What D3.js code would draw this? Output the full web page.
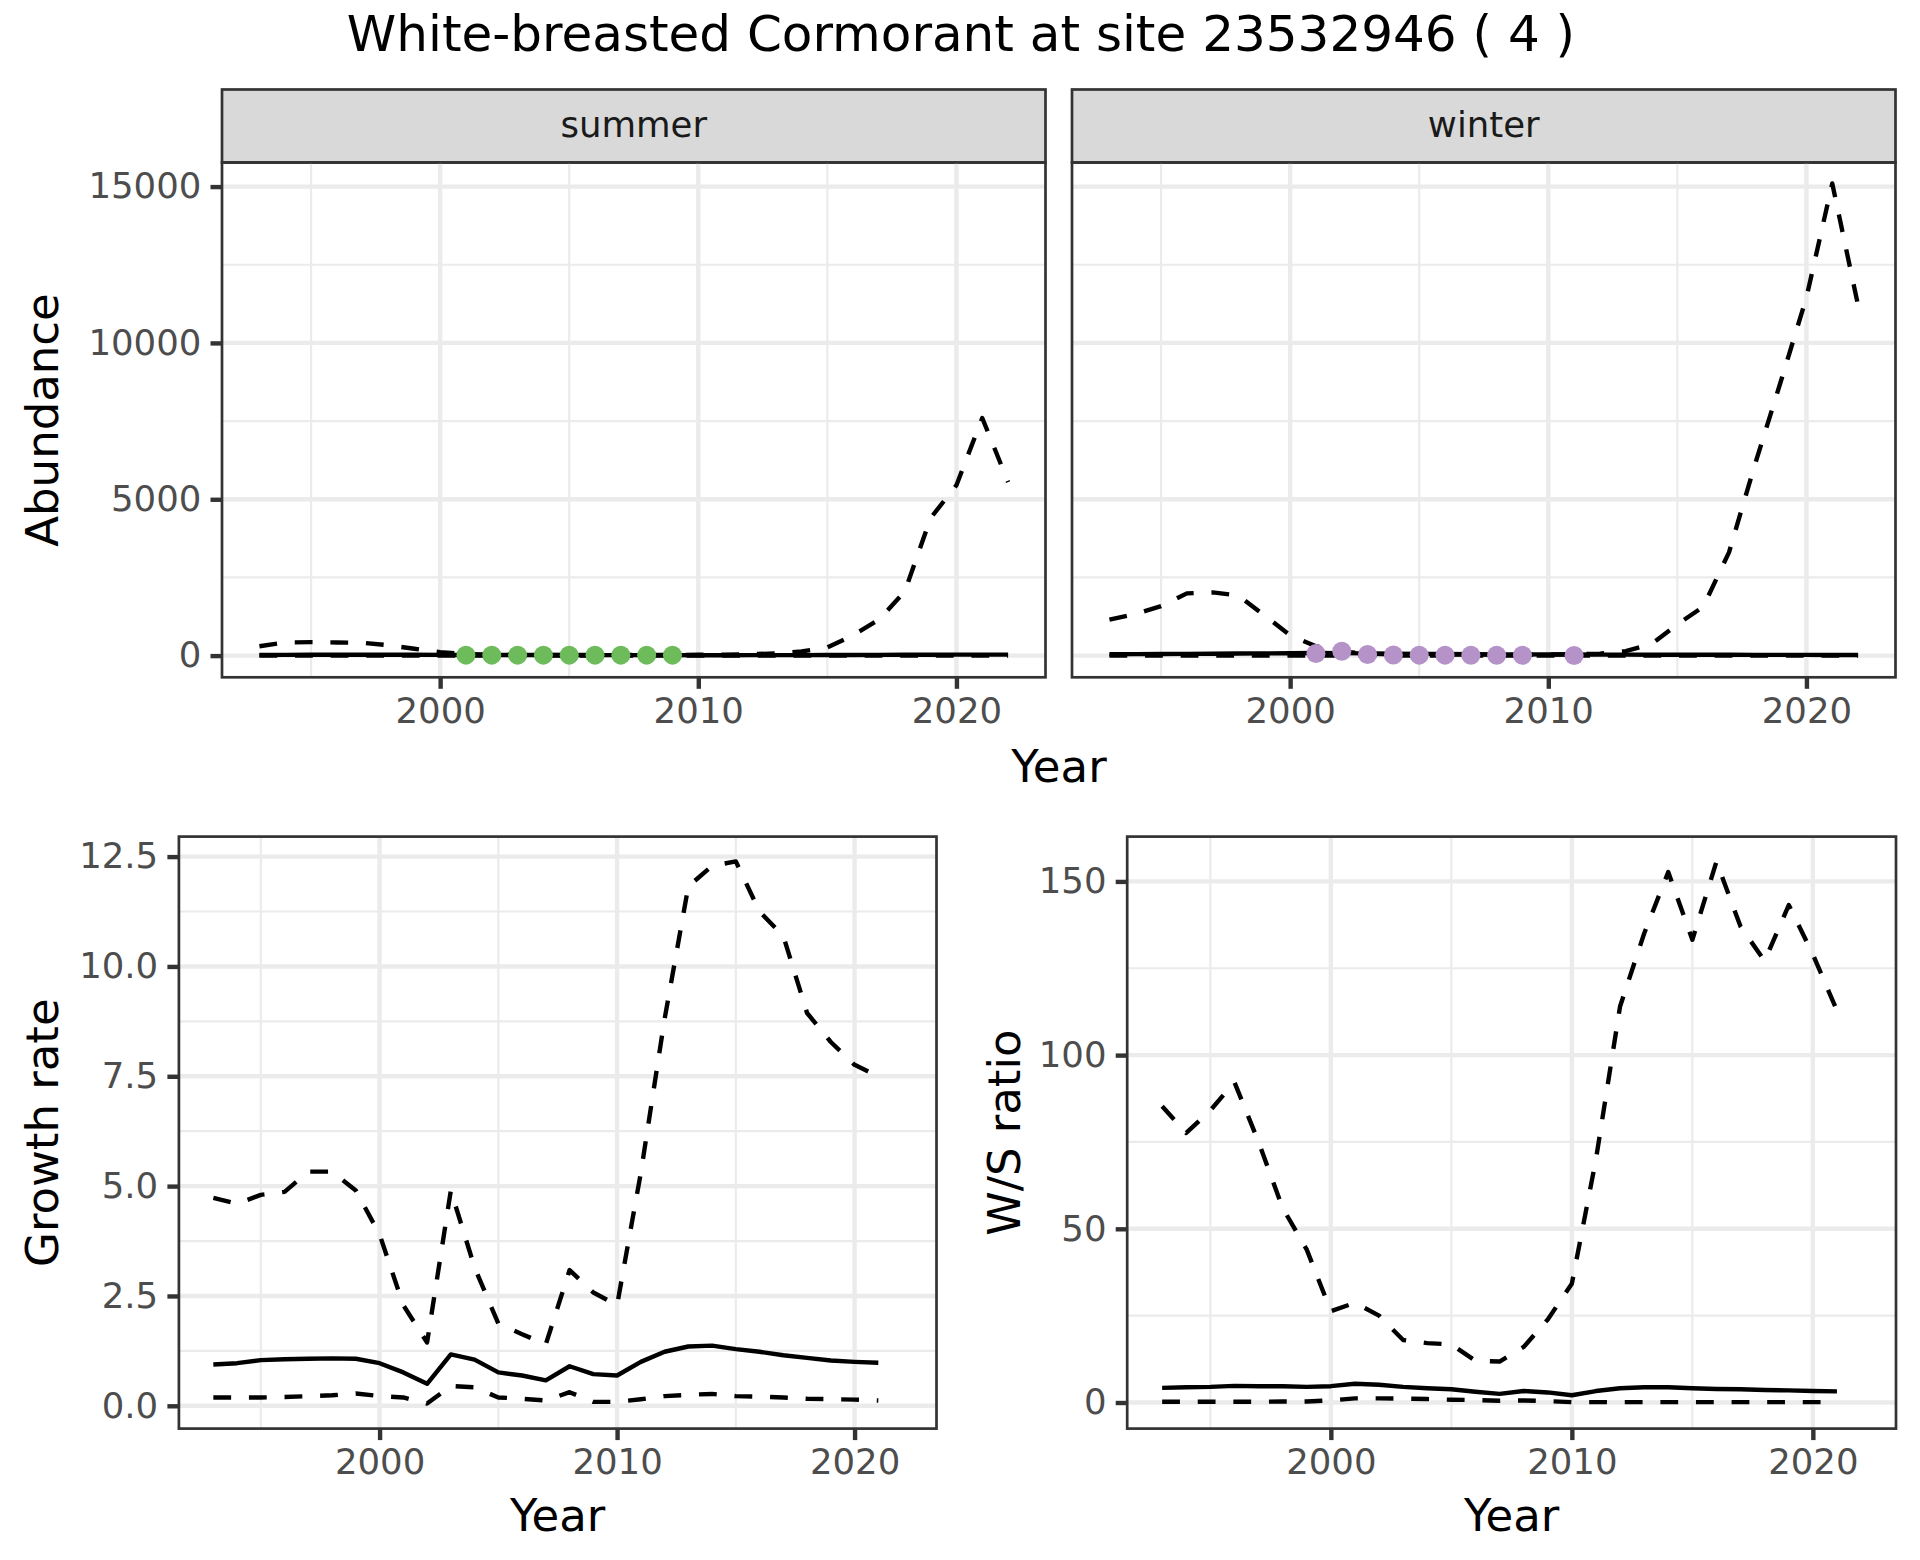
<!DOCTYPE html>
<html>
<head>
<meta charset="utf-8">
<script src="https://cdn.jsdelivr.net/npm/d3@7"></script>
<style>
  body { margin: 0; background: #ffffff; }
</style>
</head>
<body>
<svg id="chart"></svg>
<script>
// ---- data ----
var yearsTop = [1993, 1994, 1995, 1996, 1997, 1998, 1999, 2000, 2001, 2002, 2003, 2004, 2005, 2006, 2007,
                2008, 2009, 2010, 2011, 2012, 2013, 2014, 2015, 2016, 2017, 2018, 2019, 2020, 2021, 2022];
var yearsBottom = [1993, 1994, 1995, 1996, 1997, 1998, 1999, 2000, 2001, 2002, 2003, 2004, 2005, 2006, 2007,
                   2008, 2009, 2010, 2011, 2012, 2013, 2014, 2015, 2016, 2017, 2018, 2019, 2020, 2021];

var summerMid   = [20, 22, 25, 25, 25, 25, 25, 22, 20, 18, 18, 17, 16, 15, 15, 14, 14, 13, 13, 14, 15, 16, 18, 20, 22, 25, 28, 30, 32, 30];
var summerLow   = [2, 2, 2, 2, 2, 2, 2, 2, 2, 2, 1, 1, 1, 1, 1, 1, 1, 1, 1, 1, 1, 1, 1, 1, 1, 1, 1, 1, 1, 1];
var summerHigh  = [300, 420, 430, 420, 410, 330, 220, 110, 50, 30, 25, 20, 20, 20, 20, 20, 22, 25, 30, 45, 70, 130, 260, 650, 1150, 2050, 4400, 5450, 7600, 5550];
var winterMid   = [45, 48, 50, 55, 60, 65, 70, 75, 85, 80, 70, 60, 55, 50, 45, 40, 38, 35, 33, 30, 30, 28, 27, 25, 25, 24, 23, 22, 20, 20];
var winterLow   = [0, 0, 0, 0, 0, 0, 0, 1, 3, 4, 3, 2, 2, 1, 1, 1, 1, 1, 1, 0, 0, 0, 0, 0, 0, 0, 0, 0, 0, 0];
var winterHigh  = [1150, 1330, 1580, 1990, 2020, 1920, 1290, 650, 300, 130, 60, 40, 35, 30, 30, 30, 30, 35, 40, 60, 145, 370, 1000, 1560, 3300, 6100, 8750, 11450, 15100, 11200];

var summerObsYears = [2001, 2002, 2003, 2004, 2005, 2006, 2007, 2008, 2009];
var summerObs      = [15, 15, 15, 15, 15, 15, 15, 15, 15];
var winterObsYears = [2001, 2002, 2003, 2004, 2005, 2006, 2007, 2008, 2009, 2011];
var winterObs      = [70, 140, 35, 20, 15, 15, 10, 10, 10, 5];

var growthMid  = [0.94, 0.97, 1.04, 1.06, 1.07, 1.08, 1.07, 0.97, 0.76, 0.50, 1.17, 1.05, 0.76, 0.69, 0.58,
                  0.90, 0.72, 0.69, 1.00, 1.23, 1.35, 1.37, 1.29, 1.23, 1.15, 1.09, 1.03, 1.00, 0.98];
var growthLow  = [0.19, 0.19, 0.19, 0.20, 0.22, 0.24, 0.28, 0.22, 0.19, 0.05, 0.45, 0.42, 0.19, 0.16, 0.12,
                  0.31, 0.09, 0.09, 0.15, 0.22, 0.25, 0.27, 0.22, 0.21, 0.19, 0.16, 0.15, 0.14, 0.12];
var growthHigh = [4.73, 4.60, 4.80, 4.87, 5.33, 5.33, 4.90, 3.90, 2.29, 1.44, 4.90, 3.15, 1.87, 1.63, 1.40,
                  3.09, 2.58, 2.29, 5.30, 8.80, 11.82, 12.29, 12.39, 11.25, 10.69, 8.94, 8.28, 7.76, 7.50];

var ratioMid  = [4.2, 4.4, 4.5, 4.8, 4.7, 4.7, 4.5, 4.7, 5.4, 5.1, 4.5, 4.1, 3.8, 3.1, 2.5,
                 3.3, 2.9, 2.1, 3.3, 4.1, 4.4, 4.4, 4.1, 3.9, 3.8, 3.6, 3.5, 3.3, 3.2];
var ratioLow  = [0.2, 0.2, 0.2, 0.2, 0.2, 0.3, 0.3, 0.6, 1.2, 1.2, 1.1, 1.0, 0.8, 0.7, 0.5,
                 0.6, 0.4, 0.1, 0.1, 0.1, 0.1, 0.1, 0.1, 0.1, 0.1, 0.1, 0.1, 0.1, 0.1];
var ratioHigh = [85.3, 77.6, 84.1, 92.2, 75.0, 56.0, 44.0, 26.3, 28.7, 25.0, 18.0, 17.1, 16.7, 12.0, 11.8,
                 16.0, 23.9, 34.2, 70.0, 114.0, 135.0, 152.7, 133.2, 155.7, 137.0, 127.1, 143.2, 129.0, 112.8];

var xTicks = [2000, 2010, 2020];
var xMinorTicks = [1995, 2005, 2015];
var abundanceTicks = [0, 5000, 10000, 15000];
var abundanceMinor = [2500, 7500, 12500];
var growthTicks = [0, 2.5, 5, 7.5, 10, 12.5];
var growthMinor = [1.25, 3.75, 6.25, 8.75, 11.25];
var ratioTicks = [0, 50, 100, 150];
var ratioMinor = [25, 75, 125];

var facetNames = ["summer", "winter"];
var titleText = "White-breasted Cormorant at site 23532946 ( 4 )";

// ---- drawing ----
var FONT = "DejaVu Sans";
var TICK_SIZE = 35.5;
var AXIS_TITLE = 45;
var LW = 4.4;
var DASH = "17.8,17.8";

var svg = d3.select("#chart").attr("width", 1920).attr("height", 1560)
  .style("font-family", FONT);

svg.append("rect").attr("width", 1920).attr("height", 1560).attr("fill", "#ffffff");

function zip(xs, ys) {
  return xs.map(function(d, i) { return [d, ys[i]]; });
}

function drawPanel(box, xDomain, yDomain, opts) {
  var x = d3.scaleLinear().domain(xDomain).range([box.left, box.right]);
  var y = d3.scaleLinear().domain(yDomain).range([box.bottom, box.top]);
  var g = svg.append("g");

  // grid
  g.selectAll(".xminor").data(xMinorTicks).enter().append("line")
    .attr("x1", function(d) { return x(d); }).attr("x2", function(d) { return x(d); })
    .attr("y1", box.top).attr("y2", box.bottom)
    .attr("stroke", "#ebebeb").attr("stroke-width", 2.2);
  g.selectAll(".yminor").data(opts.yMinor).enter().append("line")
    .attr("y1", function(d) { return y(d); }).attr("y2", function(d) { return y(d); })
    .attr("x1", box.left).attr("x2", box.right)
    .attr("stroke", "#ebebeb").attr("stroke-width", 2.2);
  g.selectAll(".xmajor").data(xTicks).enter().append("line")
    .attr("x1", function(d) { return x(d); }).attr("x2", function(d) { return x(d); })
    .attr("y1", box.top).attr("y2", box.bottom)
    .attr("stroke", "#ebebeb").attr("stroke-width", 4.4);
  g.selectAll(".ymajor").data(opts.yTicks).enter().append("line")
    .attr("y1", function(d) { return y(d); }).attr("y2", function(d) { return y(d); })
    .attr("x1", box.left).attr("x2", box.right)
    .attr("stroke", "#ebebeb").attr("stroke-width", 4.4);

  var line = d3.line()
    .x(function(d) { return x(d[0]); })
    .y(function(d) { return y(d[1]); });

  opts.series.forEach(function(s) {
    g.append("path")
      .attr("d", line(s.data))
      .attr("fill", "none")
      .attr("stroke", "#000000")
      .attr("stroke-width", LW)
      .attr("stroke-linejoin", "round")
      .attr("stroke-dasharray", s.dashed ? DASH : null);
  });

  if (opts.points) {
    g.selectAll(".pt").data(opts.points).enter().append("circle")
      .attr("cx", function(d) { return x(d[0]); })
      .attr("cy", function(d) { return y(d[1]); })
      .attr("r", 9.5)
      .attr("fill", opts.pointColor);
  }

  g.append("rect")
    .attr("x", box.left).attr("y", box.top)
    .attr("width", box.right - box.left).attr("height", box.bottom - box.top)
    .attr("fill", "none").attr("stroke", "#333333").attr("stroke-width", 2.7);

  if (opts.showX) {
    var ax = g.append("g")
      .attr("transform", "translate(0," + box.bottom + ")")
      .call(d3.axisBottom(x).tickValues(xTicks).tickSize(11.5).tickPadding(9.2).tickFormat(d3.format("d")));
    styleAxis(ax);
  }
  if (opts.showY) {
    var ay = g.append("g")
      .attr("transform", "translate(" + box.left + ",0)")
      .call(d3.axisLeft(y).tickValues(opts.yTicks).tickSize(11.5).tickPadding(9.2).tickFormat(opts.yFormat));
    styleAxis(ay);
  }
  return g;
}

function styleAxis(a) {
  a.select(".domain").remove();
  a.selectAll(".tick line").attr("stroke", "#333333").attr("stroke-width", 4.4);
  a.selectAll(".tick text")
    .attr("fill", "#4d4d4d")
    .style("font-size", TICK_SIZE + "px")
    .style("font-family", FONT);
}

function strip(box, label) {
  svg.append("rect")
    .attr("x", box.left).attr("y", 89.5)
    .attr("width", box.right - box.left).attr("height", box.top - 89.5)
    .attr("fill", "#d9d9d9").attr("stroke", "#333333").attr("stroke-width", 2.7);
  svg.append("text")
    .attr("x", (box.left + box.right) / 2).attr("y", 137)
    .attr("text-anchor", "middle")
    .attr("fill", "#1a1a1a")
    .style("font-size", TICK_SIZE + "px")
    .text(label);
}

var xDomain = [1991.55, 2023.45];
var summerBox = { left: 222, right: 1045.5, top: 162.5, bottom: 677.3 };
var winterBox = { left: 1072, right: 1895.5, top: 162.5, bottom: 677.3 };
var growthBox = { left: 178.9, right: 936.5, top: 836.6, bottom: 1428.6 };
var ratioBox  = { left: 1127.2, right: 1896, top: 836.6, bottom: 1428.6 };

strip(summerBox, facetNames[0]);
strip(winterBox, facetNames[1]);

drawPanel(summerBox, xDomain, [-694, 15770], {
  yTicks: abundanceTicks, yMinor: abundanceMinor, yFormat: d3.format("d"),
  showX: true, showY: true,
  series: [
    { data: zip(yearsTop, summerLow), dashed: true },
    { data: zip(yearsTop, summerHigh), dashed: true },
    { data: zip(yearsTop, summerMid), dashed: false }
  ],
  points: zip(summerObsYears, summerObs), pointColor: "#6dbb5b"
});

drawPanel(winterBox, xDomain, [-694, 15770], {
  yTicks: abundanceTicks, yMinor: abundanceMinor, yFormat: d3.format("d"),
  showX: true, showY: false,
  series: [
    { data: zip(yearsTop, winterLow), dashed: true },
    { data: zip(yearsTop, winterHigh), dashed: true },
    { data: zip(yearsTop, winterMid), dashed: false }
  ],
  points: zip(winterObsYears, winterObs), pointColor: "#b592c8"
});

drawPanel(growthBox, xDomain, [-0.519, 12.955], {
  yTicks: growthTicks, yMinor: growthMinor, yFormat: d3.format(".1f"),
  showX: true, showY: true,
  series: [
    { data: zip(yearsBottom, growthLow), dashed: true },
    { data: zip(yearsBottom, growthHigh), dashed: true },
    { data: zip(yearsBottom, growthMid), dashed: false }
  ]
});

drawPanel(ratioBox, xDomain, [-7.51, 162.9], {
  yTicks: ratioTicks, yMinor: ratioMinor, yFormat: d3.format("d"),
  showX: true, showY: true,
  series: [
    { data: zip(yearsBottom, ratioLow), dashed: true },
    { data: zip(yearsBottom, ratioHigh), dashed: true },
    { data: zip(yearsBottom, ratioMid), dashed: false }
  ]
});

// titles
function label(txt, x, y, size, rotate) {
  svg.append("text")
    .attr("transform", "translate(" + x + "," + y + ")" + (rotate ? " rotate(-90)" : ""))
    .attr("text-anchor", "middle")
    .attr("fill", "#000000")
    .style("font-size", size + "px")
    .text(txt);
}

label(titleText, 961, 51, 50, false);
label("Year", 1059, 782, AXIS_TITLE, false);
label("Abundance", 58, 420, AXIS_TITLE, true);
label("Year", 557.7, 1531, AXIS_TITLE, false);
label("Growth rate", 58, 1132.6, AXIS_TITLE, true);
label("Year", 1511.6, 1531, AXIS_TITLE, false);
label("W/S ratio", 1020, 1132.6, AXIS_TITLE, true);
</script>
</body>
</html>
